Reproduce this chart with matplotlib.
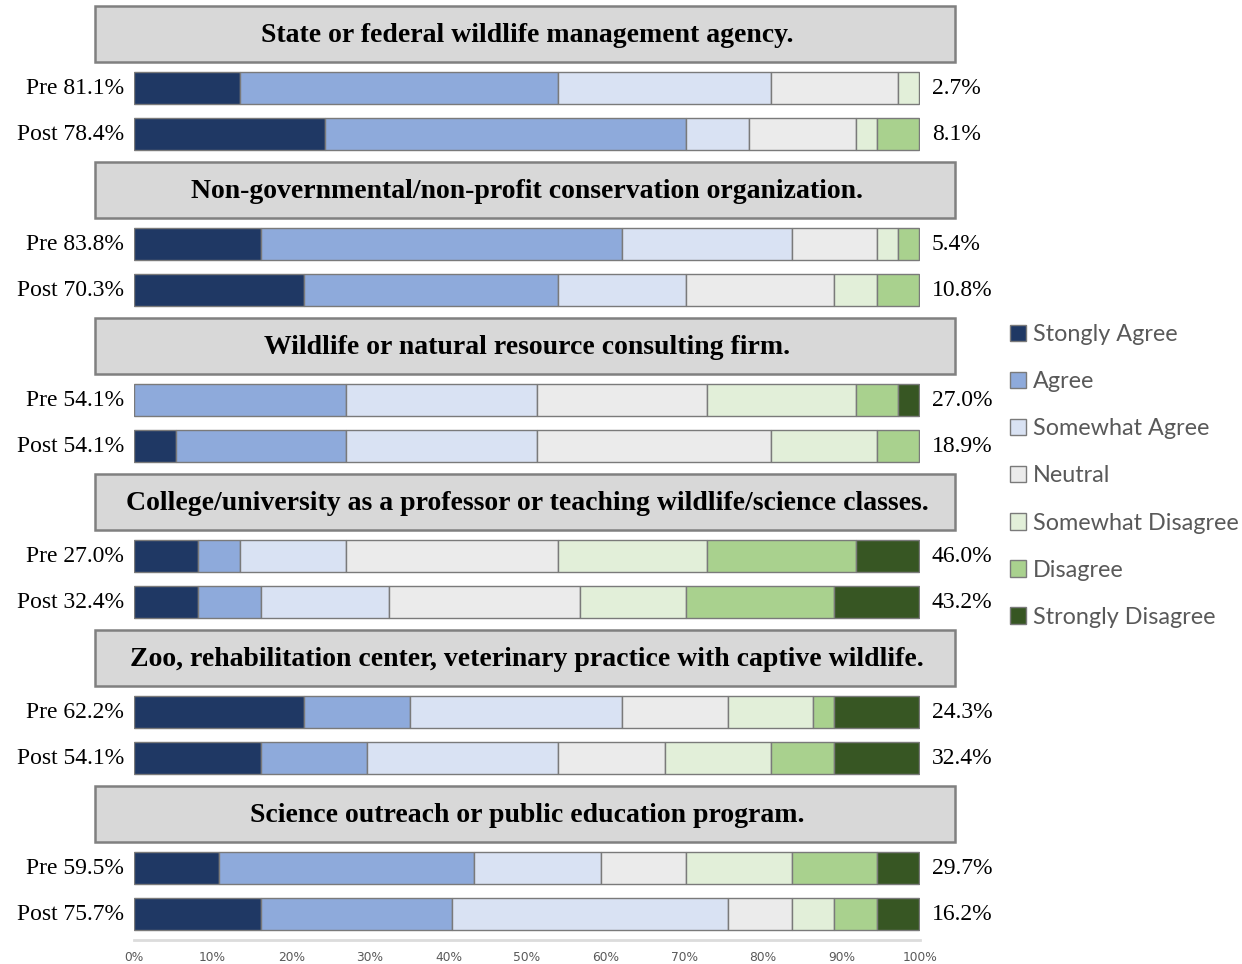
import matplotlib
matplotlib.use("Agg")
import matplotlib.pyplot as plt
from matplotlib.patches import Rectangle, Patch

# survey of 37 students, percent of responses per category
categories = ["Stongly Agree", "Agree", "Somewhat Agree", "Neutral",
              "Somewhat Disagree", "Disagree", "Strongly Disagree"]
colors = ["#1f3864", "#8eaadb", "#d9e2f3", "#ebebeb", "#e2efd9", "#a9d18e", "#375623"]

titles = [
    "State or federal wildlife management agency.",
    "Non-governmental/non-profit conservation organization.",
    "Wildlife or natural resource consulting firm.",
    "College/university as a professor or teaching wildlife/science classes.",
    "Zoo, rehabilitation center, veterinary practice with captive wildlife.",
    "Science outreach or public education program.",
]

pre = [
    [13.5, 40.5, 27.0, 16.2, 2.7, 0.0, 0.0],
    [16.2, 45.9, 21.6, 10.8, 2.7, 2.7, 0.0],
    [0.0, 27.0, 24.3, 21.6, 18.9, 5.4, 2.7],
    [8.1, 5.4, 13.5, 27.0, 18.9, 18.9, 8.1],
    [21.6, 13.5, 27.0, 13.5, 10.8, 2.7, 10.8],
    [10.8, 32.4, 16.2, 10.8, 13.5, 10.8, 5.4],
]
post = [
    [24.3, 45.9, 8.1, 13.5, 2.7, 5.4, 0.0],
    [21.6, 32.4, 16.2, 18.9, 5.4, 5.4, 0.0],
    [5.4, 21.6, 24.3, 29.7, 13.5, 5.4, 0.0],
    [8.1, 8.1, 16.2, 24.3, 13.5, 18.9, 10.8],
    [16.2, 13.5, 24.3, 13.5, 13.5, 8.1, 10.8],
    [16.2, 24.3, 35.1, 8.1, 5.4, 5.4, 5.4],
]

pre_left = ["Pre 81.1%", "Pre 83.8%", "Pre 54.1%", "Pre 27.0%", "Pre 62.2%", "Pre 59.5%"]
post_left = ["Post 78.4%", "Post 70.3%", "Post 54.1%", "Post 32.4%", "Post 54.1%", "Post 75.7%"]
pre_right = ["2.7%", "5.4%", "27.0%", "46.0%", "24.3%", "29.7%"]
post_right = ["8.1%", "10.8%", "18.9%", "43.2%", "32.4%", "16.2%"]

W, H = 1242, 964
fig = plt.figure(figsize=(W / 100, H / 100), dpi=100)
# axes: x from 0% at px 134 to 100% at px 920, y in pixel units (top 0, bottom 940)
ax = fig.add_axes([134 / W, 1 - 940 / H, 786 / W, 940 / H])
ax.set_xlim(0, 100)
ax.set_ylim(940, 0)

serif = "Liberation Serif"
for i in range(6):
    yh = 34 + 156 * i
    ypre = yh + 54
    ypost = yh + 100
    ax.add_patch(Rectangle((-4.9, yh - 28), 109.3, 56, facecolor="#d8d8d8",
                           edgecolor="#808080", lw=1.8, clip_on=False))
    ax.text(50, yh + 1, titles[i], ha="center", va="center", fontsize=20,
            fontweight="bold", family=serif, color="black")
    for vals, y, lt, rt in [(pre[i], ypre, pre_left[i], pre_right[i]),
                            (post[i], ypost, post_left[i], post_right[i])]:
        left = 0
        for v, c in zip(vals, colors):
            if v > 0:
                ax.barh(y, v, left=left, height=32, color=c, edgecolor="#7a7a7a", lw=1)
            left += v
        ax.text(-1.3, y + 1, lt, ha="right", va="center", fontsize=17, family=serif)
        ax.text(1.5 + 100, y + 1, rt, ha="left", va="center", fontsize=17, family=serif)

ax.set_xticks(range(0, 101, 10))
ax.set_xticklabels([f"{t}%" for t in range(0, 101, 10)], fontsize=8.8, color="#595959")
ax.tick_params(axis="x", length=0, pad=8)
ax.set_yticks([])
for s in ["top", "left", "right"]:
    ax.spines[s].set_visible(False)
ax.spines["bottom"].set_color("#dcdcdc")
ax.spines["bottom"].set_linewidth(2)

handles = [Patch(facecolor=c, edgecolor="#7a7a7a", lw=1) for c in colors]
leg = fig.legend(handles, categories, loc="upper left",
                 bbox_to_anchor=(1010 / W, 1 - 324 / H), frameon=False,
                 prop={"family": "Lato", "size": 16.8}, labelcolor="#595959",
                 handlelength=0.7, handleheight=0.7, handletextpad=0.3,
                 labelspacing=1.12, borderpad=0, borderaxespad=0)

fig.savefig("out.png", dpi=100)
